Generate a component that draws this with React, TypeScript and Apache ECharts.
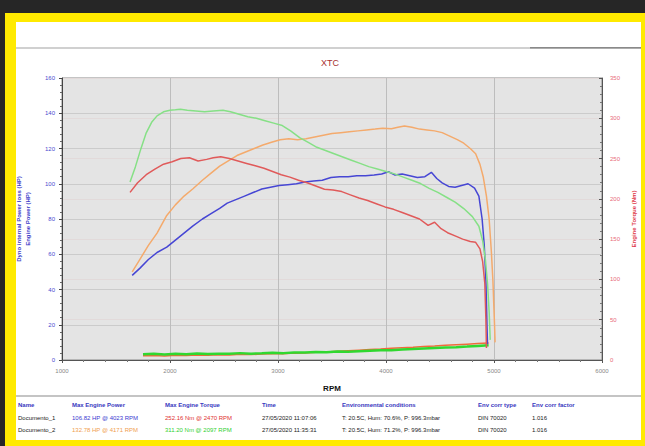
import React, { useEffect, useRef } from "react";
import * as echarts from "echarts";

const FONT = '"Liberation Sans", Arial, sans-serif';

// Documento_1 engine power (HP) vs RPM
const doc1PowerRpm = [1650, 1720, 1800, 1880, 1970, 2050, 2130, 2210, 2300, 2380, 2460, 2530, 2610, 2690, 2770, 2850, 2930, 3010, 3090, 3170, 3250, 3330, 3410, 3490, 3570, 3650, 3730, 3810, 3890, 3960, 4023, 4080, 4150, 4220, 4290, 4360, 4420, 4470, 4520, 4580, 4640, 4700, 4760, 4820, 4860, 4890, 4910, 4925, 4935, 4940];
const doc1PowerHp = [48, 52, 57, 61, 64, 68, 72, 76, 80, 83, 86, 89, 91, 93, 95, 97, 98, 99, 99.5, 100, 101, 101.5, 102, 103.5, 104, 104, 104.5, 104.5, 105, 105.5, 106.8, 105, 105.5, 104.5, 103.5, 104, 106.5, 103, 100.5, 98.5, 98, 99, 100, 97.5, 93, 80, 65, 45, 20, 9];

// Documento_2 engine power (HP)
const doc2PowerRpm = [1650, 1720, 1800, 1880, 1970, 2050, 2130, 2210, 2300, 2380, 2460, 2540, 2620, 2700, 2780, 2860, 2940, 3020, 3100, 3180, 3260, 3340, 3420, 3500, 3580, 3660, 3740, 3820, 3900, 3970, 4050, 4110, 4171, 4240, 4310, 4380, 4450, 4520, 4590, 4660, 4720, 4780, 4830, 4870, 4900, 4930, 4955, 4975, 4990, 5005, 5010];
const doc2PowerHp = [50, 57, 65, 72, 82, 88, 93, 97, 102, 106, 110, 113, 116, 118, 120, 122, 123.5, 125, 125.5, 125, 125.5, 126.5, 127.5, 128.5, 129, 129.5, 130, 130.5, 131, 131.5, 131.2, 132, 132.8, 132, 131, 130.5, 130, 129, 127, 125, 123, 120, 117, 111, 104, 93, 80, 62, 45, 20, 10];

// Documento_1 engine torque (Nm)
const doc1TorqueRpm = [1630, 1700, 1780, 1860, 1940, 2020, 2100, 2180, 2260, 2340, 2400, 2470, 2550, 2630, 2710, 2790, 2870, 2950, 3030, 3110, 3190, 3270, 3350, 3430, 3510, 3590, 3670, 3750, 3830, 3910, 3990, 4070, 4150, 4230, 4310, 4390, 4450, 4510, 4570, 4640, 4710, 4780, 4830, 4870, 4895, 4915, 4925, 4930];
const doc1TorqueNm = [208, 220, 230, 237, 243, 246, 250, 251, 247, 249, 251, 252.2, 250, 247, 244, 241, 238, 234, 230, 227, 223, 220, 216, 212, 211, 209, 205, 201, 198, 194, 190, 187, 183, 179, 175, 167, 171, 163, 158, 154, 150, 147, 146, 138, 122, 95, 50, 15];

// Documento_2 engine torque (Nm)
const doc2TorqueRpm = [1630, 1680, 1730, 1780, 1830, 1880, 1940, 2000, 2050, 2097, 2160, 2240, 2320, 2400, 2490, 2560, 2640, 2720, 2800, 2880, 2960, 3040, 3120, 3200, 3280, 3360, 3440, 3520, 3600, 3680, 3760, 3840, 3920, 4000, 4080, 4160, 4240, 4320, 4400, 4480, 4560, 4640, 4720, 4800, 4860, 4895, 4920, 4940, 4955, 4965];
const doc2TorqueNm = [221, 240, 262, 282, 295, 303, 308, 310, 310.5, 311.2, 310, 309, 308, 309, 310, 308, 305, 302, 300, 297, 294, 291, 284, 276, 270, 264, 260, 256, 252, 248, 244, 240, 237, 234, 231, 227, 223, 219, 213, 208, 202, 196, 188, 178, 166, 148, 125, 95, 60, 25];

// Dyno internal power loss (HP)
const lossRpm = [1750, 1850, 1950, 2050, 2150, 2250, 2350, 2450, 2550, 2650, 2750, 2850, 2950, 3050, 3150, 3250, 3350, 3450, 3550, 3650, 3750, 3850, 3950, 4050, 4150, 4250, 4350, 4450, 4550, 4650, 4750, 4850, 4950];
const doc1LossHp = [2.4, 2.6, 2.3, 2.7, 2.5, 2.8, 2.7, 3.0, 2.9, 3.2, 3.1, 3.4, 3.6, 3.5, 3.9, 4.0, 4.4, 4.6, 5.0, 5.3, 5.6, 5.9, 6.2, 6.6, 7.0, 7.3, 7.7, 8.0, 8.4, 8.7, 9.0, 9.3, 9.6];
const doc2LossHp = [3.2, 3.5, 3.1, 3.6, 3.3, 3.7, 3.4, 3.6, 3.5, 3.9, 3.6, 3.8, 4.1, 3.9, 4.3, 4.2, 4.5, 4.4, 4.8, 4.7, 5.0, 5.3, 5.6, 5.5, 6.0, 6.2, 6.5, 6.8, 7.1, 7.3, 7.6, 8.0, 8.4];

const tableHeaders = ["Name", "Max Engine Power", "Max Engine Torque", "Time", "Environmental conditions", "Env corr type", "Env corr factor"];
const row1 = ["Documento_1", "106.82 HP @ 4023 RPM", "252.16 Nm @ 2470 RPM", "27/05/2020 11:07:06", "T: 20.5C, Hum: 70.6%, P: 996.3mbar", "DIN 70020", "1.016"];
const row2 = ["Documento_2", "132.78 HP @ 4171 RPM", "311.20 Nm @ 2097 RPM", "27/05/2020 11:35:31", "T: 20.5C, Hum: 71.2%, P: 996.3mbar", "DIN 70020", "1.016"];
const colX = [18, 72, 165, 262, 342, 478, 532];
const row1Colors = ["#222", "#3a3ad0", "#e03030", "#222", "#222", "#222", "#222"];
const row2Colors = ["#222", "#f0a050", "#30d030", "#222", "#222", "#222", "#222"];

function zip(a: number[], b: number[]) {
  return a.map((x, i) => [x, b[i]]);
}

export default function App() {
  const ref = useRef<HTMLDivElement>(null);
  useEffect(() => {
    const chart = echarts.init(ref.current!, null, { renderer: "svg" });
    const txt = (text: string, x: number, y: number, fill: string, size: number, weight = "normal") => ({
      type: "text",
      z: 10,
      style: { text, x, y, fill, fontSize: size, fontWeight: weight, fontFamily: FONT, textVerticalAlign: "middle" },
    });
    const tableEls: any[] = [];
    tableHeaders.forEach((h, i) => tableEls.push(txt(h, colX[i], 405, "#3838c0", 6, "bold")));
    row1.forEach((h, i) => tableEls.push(txt(h, colX[i], 418, row1Colors[i], 6)));
    row2.forEach((h, i) => tableEls.push(txt(h, colX[i], 430, row2Colors[i], 6)));

    chart.setOption({
      animation: false,
      backgroundColor: "#262626",
      graphic: {
        elements: [
          { type: "rect", z: -100, shape: { x: 5, y: 13, width: 640, height: 433 }, style: { fill: "#ffea00" } },
          { type: "rect", z: -99, shape: { x: 16, y: 22, width: 625, height: 418 }, style: { fill: "#ffffff" } },
          { type: "rect", z: -98, shape: { x: 16, y: 47, width: 625, height: 2 }, style: { fill: "#d0d0d0" } },
          { type: "rect", z: -97, shape: { x: 530, y: 47, width: 111, height: 1.5 }, style: { fill: "#8a8a8a" } },
          { type: "rect", z: -98, shape: { x: 16, y: 395, width: 625, height: 2 }, style: { fill: "#c4c4c4" } },
          {
            type: "text",
            z: 10,
            style: { text: "XTC", x: 330, y: 63, fill: "#a83030", fontSize: 9, fontFamily: FONT, textAlign: "center", textVerticalAlign: "middle" },
          },
          ...tableEls,
        ],
      },
      grid: { left: 62, right: 42, top: 78, bottom: 86, show: true, backgroundColor: "#e4e4e4", borderColor: "#888", borderWidth: 1 },
      xAxis: {
        type: "value",
        min: 1000,
        max: 6000,
        interval: 1000,
        name: "RPM",
        nameLocation: "middle",
        nameGap: 24,
        nameTextStyle: { color: "#111", fontWeight: "bold", fontSize: 8, fontFamily: FONT },
        axisLine: { show: true, lineStyle: { color: "#555" } },
        axisTick: { show: true, length: 3, lineStyle: { color: "#555" } },
        minorTick: { show: true, splitNumber: 5, length: 2, lineStyle: { color: "#777" } },
        axisLabel: { color: "#888", fontSize: 6, fontFamily: FONT, margin: 8, formatter: (v: number) => String(v) },
        splitLine: { show: true, lineStyle: { color: "#bdbdbd", width: 1 } },
      },
      yAxis: [
        {
          type: "value",
          min: 0,
          max: 160,
          interval: 20,
          name: "Dyno internal Power loss (HP)\nEngine Power (HP)",
          nameLocation: "middle",
          nameRotate: 90,
          nameGap: 30,
          nameTextStyle: { color: "#3c3cc8", fontWeight: "bold", fontSize: 6, fontFamily: FONT, lineHeight: 9 },
          axisLine: { show: true, lineStyle: { color: "#444" } },
          axisTick: { show: true, length: 3, lineStyle: { color: "#444" } },
          minorTick: { show: true, splitNumber: 5, length: 2, lineStyle: { color: "#666" } },
          axisLabel: { color: "#4a4ad0", fontSize: 6, fontFamily: FONT, margin: 7 },
          splitLine: { show: true, lineStyle: { color: "#cbcbcb", width: 1 } },
        },
        {
          type: "value",
          min: 0,
          max: 350,
          interval: 50,
          position: "right",
          name: "Engine Torque (Nm)",
          nameLocation: "middle",
          nameRotate: 90,
          nameGap: 29,
          nameTextStyle: { color: "#e03a4a", fontWeight: "bold", fontSize: 6, fontFamily: FONT },
          axisLine: { show: true, lineStyle: { color: "#555" } },
          axisTick: { show: true, length: 3, inside: true, lineStyle: { color: "#555" } },
          minorTick: { show: true, splitNumber: 5, length: 2, lineStyle: { color: "#777" } },
          axisLabel: { color: "#e86a7a", fontSize: 6, fontFamily: FONT, margin: 8 },
          splitLine: { show: true, lineStyle: { color: "#e2dada", width: 1 } },
        },
      ],
      series: [
        { name: "Loss 1", type: "line", yAxisIndex: 0, data: zip(lossRpm, doc1LossHp), showSymbol: false, lineStyle: { color: "#f06a3a", width: 1.5 } },
        { name: "Loss 2", type: "line", yAxisIndex: 0, data: zip(lossRpm, doc2LossHp), showSymbol: false, lineStyle: { color: "#30d830", width: 2.5 } },
        { name: "Power 1", type: "line", yAxisIndex: 0, data: zip(doc1PowerRpm, doc1PowerHp), showSymbol: false, lineStyle: { color: "#4646d4", width: 1.5 } },
        { name: "Power 2", type: "line", yAxisIndex: 0, data: zip(doc2PowerRpm, doc2PowerHp), showSymbol: false, lineStyle: { color: "#f4aa6c", width: 1.5 } },
        { name: "Torque 1", type: "line", yAxisIndex: 1, data: zip(doc1TorqueRpm, doc1TorqueNm), showSymbol: false, lineStyle: { color: "#e05a5a", width: 1.5 } },
        { name: "Torque 2", type: "line", yAxisIndex: 1, data: zip(doc2TorqueRpm, doc2TorqueNm), showSymbol: false, lineStyle: { color: "#86e086", width: 1.5 } },
      ],
    });
    return () => chart.dispose();
  }, []);
  return <div ref={ref} style={{ position: "fixed", left: 0, top: 0, width: 645, height: 446 }} />;
}
